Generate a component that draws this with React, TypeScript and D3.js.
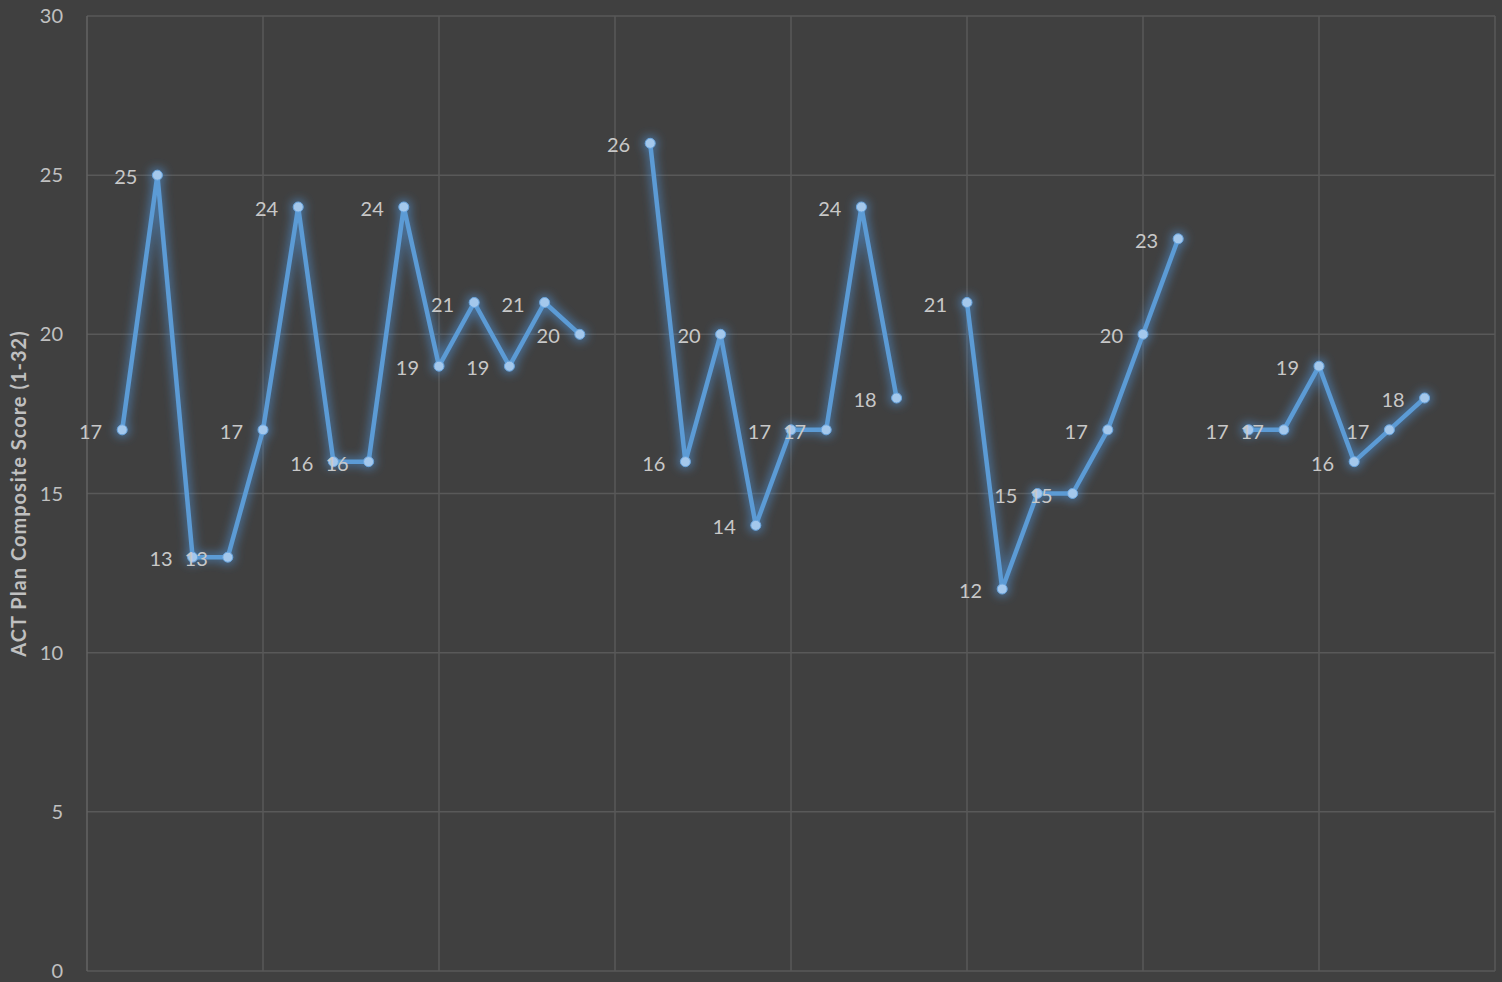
import * as d3 from 'd3';

const width = 1502;
const height = 982;
const left = 87;
const right = 1495;
const top = 16;
const bottom = 971;

// one slot per category; null = no school score (gap in the line)
const scores: (number | null)[] = [
  null, 17, 25, 13, 13, 17, 24, 16, 16, 24, 19, 21, 19, 21, 20,
  null, 26, 16, 20, 14, 17, 17, 24, 18,
  null, 21, 12, 15, 15, 17, 20, 23,
  null, 17, 17, 19, 16, 17, 18,
  null, null,
];
const yTicks = [0, 5, 10, 15, 20, 25, 30];
const xGrid = [0, 5, 10, 15, 20, 25, 30, 35, 40];
const yTitle = 'ACT Plan Composite Score (1-32)';

export default function App() {
  const x = d3.scaleLinear([0, scores.length - 1], [left, right]);
  const y = d3.scaleLinear([0, 30], [bottom, top]);
  const line = d3
    .line<number | null>()
    .defined((d) => d != null)
    .x((_, i) => x(i))
    .y((d) => y(d as number));
  const font = 'Lato, "Open Sans", sans-serif';

  return (
    <>
      <style>{`body{margin:0;background:#404040}`}</style>
      <svg width={width} height={height} style={{ display: 'block' }}>
        <defs>
          <filter id="glow" x="-20%" y="-20%" width="140%" height="140%">
            <feMorphology in="SourceAlpha" operator="dilate" radius="2" result="fat" />
            <feGaussianBlur in="fat" stdDeviation="5" result="blur" />
            <feFlood floodColor="#4f8fd0" floodOpacity="0.6" />
            <feComposite in2="blur" operator="in" result="glowCol" />
            <feMerge>
              <feMergeNode in="glowCol" />
              <feMergeNode in="SourceGraphic" />
            </feMerge>
          </filter>
        </defs>
        <rect width={width} height={height} fill="#404040" />

        {yTicks.map((t) => (
          <g key={t}>
            <line
              x1={left}
              x2={right}
              y1={y(t)}
              y2={y(t)}
              stroke="#595959"
              strokeWidth={1.5}
            />
            <text
              x={63}
              y={y(t)}
              dy="0.35em"
              textAnchor="end"
              fontSize={20}
              fill="#c0c0c0"
              fontFamily={font}
            >
              {t}
            </text>
          </g>
        ))}
        {xGrid.map((g) => (
          <line
            key={g}
            x1={x(g)}
            x2={x(g)}
            y1={top}
            y2={bottom}
            stroke={g === 0 ? '#636363' : '#595959'}
            strokeWidth={1.5}
          />
        ))}

        <text
          transform={`translate(26, ${(top + bottom) / 2}) rotate(-90)`}
          textAnchor="middle"
          fontSize={20}
          fontWeight={700}
          letterSpacing={1}
          fill="#c0c0c0"
          fontFamily={font}
        >
          {yTitle}
        </text>

        <g filter="url(#glow)">
          <path
            d={line(scores) ?? ''}
            fill="none"
            stroke="#5b9bd5"
            strokeWidth={4.5}
            strokeLinejoin="round"
          />
          {scores.map((s, i) =>
            s == null ? null : (
              <circle
                key={i}
                cx={x(i)}
                cy={y(s)}
                r={5}
                fill="#a4c8ec"
                stroke="#6aa6e0"
                strokeWidth={1}
              />
            )
          )}
        </g>

        {scores.map((s, i) =>
          s == null ? null : (
            <text
              key={i}
              x={x(i) - 20}
              y={y(s) + 2}
              dy="0.35em"
              textAnchor="end"
              fontSize={20}
              fill="#c8c8c8"
              fontFamily={font}
            >
              {s}
            </text>
          )
        )}
      </svg>
    </>
  );
}
